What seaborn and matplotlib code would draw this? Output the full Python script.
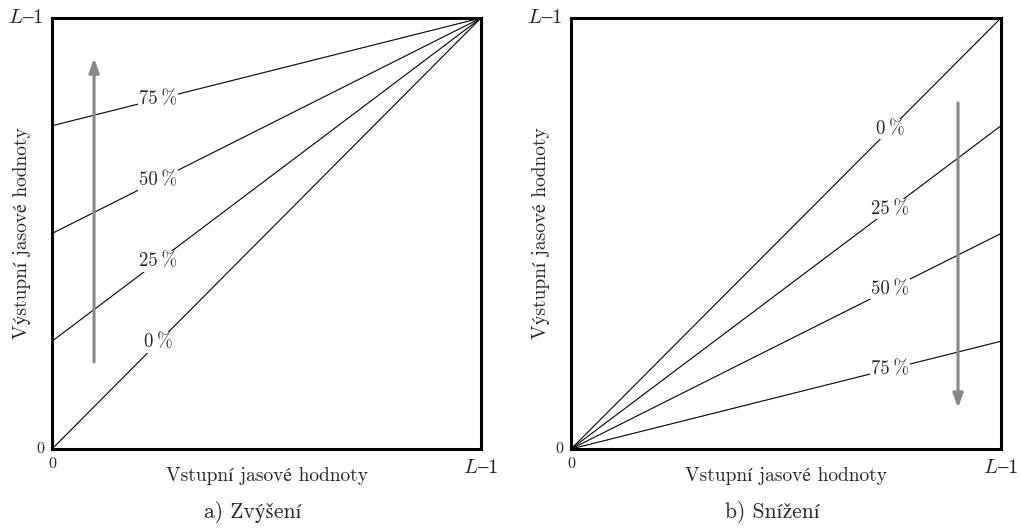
import matplotlib
matplotlib.use("Agg")
import matplotlib.pyplot as plt
import seaborn as sns
import pandas as pd

sns.set_theme(style="white")
plt.rcParams["font.family"] = ["cmr10", "STIXGeneral", "DejaVu Serif"]
plt.rcParams["mathtext.fontset"] = "cm"
plt.rcParams["axes.unicode_minus"] = False

# Percent change of brightness for each curve
percents = [0, 25, 50, 75]
percent_labels = ["0\u2009%", "25\u2009%", "50\u2009%", "75\u2009%"]
axis_min_label = "0"
axis_max_label = "$L\\mathrm{\u2013}1$"
x_title = "Vstupní jasové hodnoty"
y_title = "Výstupní jasové hodnoty"
panel_titles = ["a) Zvýšení", "b) Snížení"]

# Horizontal position (fraction of the input range) of the percent labels
label_pos = [0.247, 0.742]

W, H = 1021, 530
fig = plt.figure(figsize=(W / 100, H / 100), dpi=100)
ax1 = fig.add_axes([52 / W, (H - 449) / H, 429 / W, 431 / H])
ax2 = fig.add_axes([571 / W, (H - 449) / H, 430 / W, 431 / H])


def build_lines(kind):
    rows = []
    for p in percents:
        f = p / 100
        if kind == "up":
            pts = [(0.0, f), (1.0, 1.0)]
        else:
            pts = [(0.0, 0.0), (1.0, 1.0 - f)]
        for x, y in pts:
            rows.append({"x": x, "y": y, "pct": p})
    return pd.DataFrame(rows)


def px(ax, dx, dy, text, **kw):
    """Place text at an axes-fraction anchor shifted by pixels."""
    anchor = kw.pop("anchor")
    ax.annotate(text, xy=anchor, xycoords="axes fraction",
                xytext=(dx * 0.72, dy * 0.72), textcoords="offset points",
                annotation_clip=False, **kw)


for ax, kind, xl, title in [(ax1, "up", label_pos[0], panel_titles[0]),
                            (ax2, "down", label_pos[1], panel_titles[1])]:
    df = build_lines(kind)
    sns.lineplot(data=df, x="x", y="y", units="pct", estimator=None,
                 color="black", linewidth=0.8, ax=ax, legend=False)
    ax.set_xlim(0, 1)
    ax.set_ylim(0, 1)
    ax.set_xticks([])
    ax.set_yticks([])
    ax.set_xlabel("")
    ax.set_ylabel("")
    for s in ax.spines.values():
        s.set_visible(True)
        s.set_color("black")
        s.set_linewidth(2.2)

    for p, lab in zip(percents, percent_labels):
        f = p / 100
        if kind == "up":
            yv = f + (1 - f) * xl
        else:
            yv = (1 - f) * xl
        ax.text(xl, yv, lab, ha="center", va="center", fontsize=13.5,
                zorder=5, bbox=dict(facecolor="white", edgecolor="none", pad=1.0))

    arrow = dict(arrowstyle="-|>,head_length=0.7,head_width=0.25",
                 color="#888888", lw=2.2, mutation_scale=12, shrinkA=0, shrinkB=0)
    if kind == "up":
        ax.annotate("", xy=(0.098, 0.907), xytext=(0.098, 0.202), arrowprops=arrow)
    else:
        ax.annotate("", xy=(0.90, 0.095), xytext=(0.90, 0.803), arrowprops=arrow)

    # axis end labels
    px(ax, -8, 0, axis_min_label, anchor=(0, 0), ha="right", va="center", fontsize=11.5)
    px(ax, 0, -15, axis_min_label, anchor=(0, 0), ha="center", va="center", fontsize=11.5)
    px(ax, -9, 0, axis_max_label, anchor=(0, 1), ha="right", va="center", fontsize=15)
    px(ax, 0, -19, axis_max_label, anchor=(1, 0), ha="center", va="center", fontsize=15)
    # axis titles
    px(ax, 0, -27, x_title, anchor=(0.5, 0), ha="center", va="center", fontsize=14)
    px(ax, -30, 0, y_title, anchor=(0, 0.5), ha="center", va="center",
       fontsize=14, rotation=90)
    px(ax, -14, -63, title, anchor=(0.5, 0), ha="center", va="center", fontsize=15.5)

fig.savefig("out.png", dpi=100, facecolor="white")
